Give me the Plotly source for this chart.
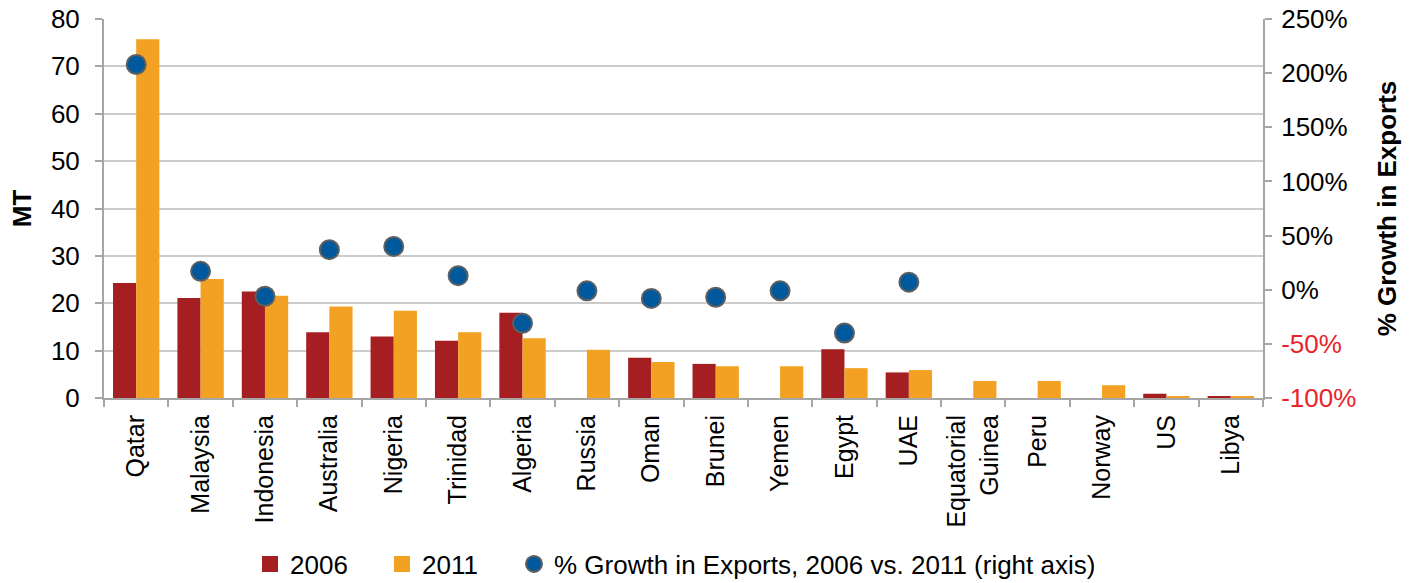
import plotly.graph_objects as go

countries = ["Qatar", "Malaysia", "Indonesia", "Australia", "Nigeria", "Trinidad",
             "Algeria", "Russia", "Oman", "Brunei", "Yemen", "Egypt", "UAE",
             "Equatorial<br>Guinea", "Peru", "Norway", "US", "Libya"]
exports_2006 = [24.3, 21.1, 22.5, 13.9, 13.0, 12.1, 18.0, 0.0, 8.5, 7.2, 0.0, 10.3,
                5.4, 0.0, 0.0, 0.0, 0.9, 0.4]
exports_2011 = [75.7, 25.1, 21.6, 19.3, 18.4, 13.9, 12.6, 10.2, 7.6, 6.7, 6.7, 6.3,
                5.9, 3.6, 3.6, 2.7, 0.4, 0.4]
growth_pct = [208, 17, -6, 37, 40, 13, -31, -1, -8, -7, -1, -40, 7,
              None, None, None, None, None]

left_ticks = [0, 10, 20, 30, 40, 50, 60, 70, 80]
right_ticks = [-100, -50, 0, 50, 100, 150, 200, 250]
right_labels = ["<span style='color:#E8242B'>-100%</span>",
                "<span style='color:#E8242B'>-50%</span>",
                "0%", "50%", "100%", "150%", "200%", "250%"]

FONT = "Liberation Sans, Arial, sans-serif"
AXIS_GRAY = "#A6A6A6"
RED = "#A51E22"
ORANGE = "#F2A122"

fig = go.Figure()
fig.add_trace(go.Bar(x=countries, y=exports_2006, name="2006", showlegend=False,
                     marker=dict(color=RED, line=dict(width=0))))
fig.add_trace(go.Bar(x=countries, y=exports_2011, name="2011", showlegend=False,
                     marker=dict(color=ORANGE, line=dict(width=0))))
fig.add_trace(go.Scatter(x=countries, y=growth_pct, yaxis="y2", mode="markers",
                         name="% Growth in Exports, 2006 vs. 2011 (right axis)",
                         showlegend=False,
                         marker=dict(color="#00599C", size=19,
                                     line=dict(color="#5F5F5F", width=2))))
# legend-only entries
fig.add_trace(go.Scatter(x=[None], y=[None], mode="markers", name="2006",
                         legendwidth=87,
                         marker=dict(symbol="square", color=RED, size=16)))
fig.add_trace(go.Scatter(x=[None], y=[None], mode="markers", name="2011",
                         legendwidth=87,
                         marker=dict(symbol="square", color=ORANGE, size=16)))
fig.add_trace(go.Scatter(x=[None], y=[None], mode="markers",
                         name="% Growth in Exports, 2006 vs. 2011 (right axis)",
                         marker=dict(color="#00599C", size=16,
                                     line=dict(color="#5F5F5F", width=2))))
# grid-only overlay axis
fig.add_trace(go.Scatter(x=[countries[0]], y=[None], yaxis="y3", showlegend=False,
                         hoverinfo="skip"))

fig.update_layout(
    width=1418, height=583,
    margin=dict(l=104, r=155, t=19, b=185, autoexpand=False),
    paper_bgcolor="white", plot_bgcolor="white",
    font=dict(family=FONT, size=26, color="black"),
    barmode="group", bargap=0.28, bargroupgap=0,
    xaxis=dict(type="category", range=[-0.5, 17.5], tickangle=-90,
               tickson="boundaries", automargin=False,
               ticks="outside", ticklen=7, tickcolor=AXIS_GRAY, tickwidth=2,
               showline=True, linecolor=AXIS_GRAY, linewidth=2,
               ticklabelstandoff=5, tickfont=dict(size=25), showgrid=False),
    yaxis=dict(range=[0, 80], tickvals=left_ticks, ticks="outside", ticklen=7,
               tickcolor=AXIS_GRAY, tickwidth=2, showline=True, automargin=False,
               linecolor=AXIS_GRAY, linewidth=2, showgrid=False, zeroline=False,
               ticklabelstandoff=10, tickfont=dict(size=26),
               ticklabeloverflow="allow",
               title=dict(text="<b>MT</b>", font=dict(size=26), standoff=12)),
    yaxis2=dict(range=[-100, 250], tickvals=right_ticks, ticktext=right_labels,
                overlaying="y", side="right", ticks="outside", ticklen=7,
                tickcolor=AXIS_GRAY, tickwidth=2, showline=True, automargin=False,
                linecolor=AXIS_GRAY, linewidth=2, showgrid=False, zeroline=False,
                ticklabelstandoff=4, tickfont=dict(size=26),
                ticklabeloverflow="allow",
                title=dict(text="<b>% Growth in Exports</b>", font=dict(size=26),
                           standoff=22)),
    yaxis3=dict(range=[0, 80], tickvals=[10, 20, 30, 40, 50, 60, 70],
                overlaying="y", showgrid=True, gridcolor="#CCCCCC", gridwidth=2,
                showticklabels=False, ticks="", zeroline=False, showline=False,
                automargin=False, layer="below traces"),
    legend=dict(orientation="h", x=(250 - 104) / 1159, xanchor="left", y=-0.438,
                yanchor="middle", font=dict(size=26), itemsizing="trace",
                traceorder="normal", itemwidth=30),
)

fig.write_html("out.html", config={"displayModeBar": False},
               post_script="document.body.style.margin='0';")
